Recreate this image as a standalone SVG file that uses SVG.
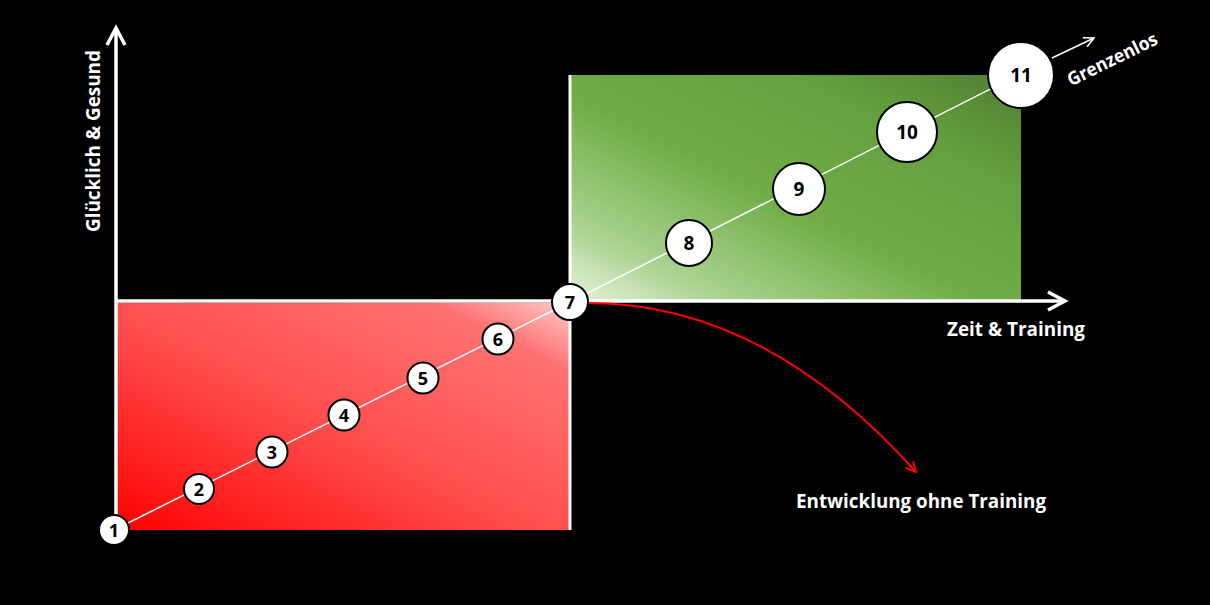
<svg xmlns="http://www.w3.org/2000/svg" width="1210" height="605" viewBox="0 0 1210 605">
<defs>
<linearGradient id="gRed" x1="0" y1="1" x2="1" y2="0">
<stop offset="0" stop-color="#ff0000"/>
<stop offset="0.45" stop-color="#ff4c4c"/>
<stop offset="0.85" stop-color="#ff7272"/>
<stop offset="1" stop-color="#ffcaca"/>
</linearGradient>
<linearGradient id="gGreen" x1="0" y1="1" x2="1" y2="0">
<stop offset="0" stop-color="#e4f2da"/>
<stop offset="0.18" stop-color="#a9d18e"/>
<stop offset="0.45" stop-color="#70ad47"/>
<stop offset="0.75" stop-color="#64a03e"/>
<stop offset="1" stop-color="#507d32"/>
</linearGradient>
<marker id="redHead" viewBox="0 0 12 12" refX="11" refY="6" markerWidth="12" markerHeight="12" markerUnits="userSpaceOnUse" orient="auto">
<path d="M1,1 L11,6 L1,11" fill="none" stroke="#ff0000" stroke-width="2"/>
</marker>
<marker id="whiteHead" viewBox="0 0 12 12" refX="11" refY="6" markerWidth="12" markerHeight="12" markerUnits="userSpaceOnUse" orient="auto">
<path d="M1,1 L11,6 L1,11" fill="none" stroke="#ffffff" stroke-width="1.6"/>
</marker>
</defs>
<style>
.lbl{font-family:"Open Sans","Noto Sans","Liberation Sans",sans-serif;font-weight:700;fill:#ffffff}
.num{font-family:"Open Sans","Noto Sans","Liberation Sans",sans-serif;font-weight:700;fill:#000000;text-anchor:middle}
.node circle{fill:#ffffff;stroke:#000000;stroke-width:2}
.axis{stroke:#ffffff;stroke-width:3.5;fill:none;stroke-linecap:butt}
.edge{stroke:#ffffff;stroke-width:3;fill:none}
</style>
<rect width="1210" height="605" fill="#000000"/>

<g id="areas">
<rect x="116" y="303" width="453" height="227" fill="url(#gRed)"/>
<rect x="571" y="75" width="450" height="225" fill="url(#gGreen)"/>
<line class="edge" x1="570" y1="75" x2="570" y2="530"/>
</g>

<g id="axes">
<line class="axis" x1="116" y1="530" x2="116" y2="29"/>
<polyline class="axis" points="107,45 116,28 125,45" stroke-linejoin="miter"/>
<line class="axis" x1="116" y1="301" x2="1064" y2="301"/>
<polyline class="axis" points="1048,292 1065,301 1048,310" stroke-linejoin="miter"/>
</g>

<g id="connectors">
<polyline points="114,530 570,302 1020,74" fill="none" stroke="#ffffff" stroke-width="1.5"/>
<line x1="1052" y1="58" x2="1094" y2="38" stroke="#ffffff" stroke-width="1.5" marker-end="url(#whiteHead)"/>
<path d="M588,303 Q765,303 916,472" fill="none" stroke="#ff0000" stroke-width="2" marker-end="url(#redHead)"/>
</g>

<g id="n1" class="node"><circle cx="114" cy="530" r="15"/><text class="num" x="114" y="536.5" font-size="18">1</text></g>
<g id="n2" class="node"><circle cx="199" cy="489" r="15"/><text class="num" x="199" y="495.5" font-size="18">2</text></g>
<g id="n3" class="node"><circle cx="272" cy="452" r="15.5"/><text class="num" x="272" y="458.5" font-size="18">3</text></g>
<g id="n4" class="node"><circle cx="344" cy="415" r="15.5"/><text class="num" x="344" y="421.5" font-size="18">4</text></g>
<g id="n5" class="node"><circle cx="423" cy="378" r="15.5"/><text class="num" x="423" y="384.5" font-size="18">5</text></g>
<g id="n6" class="node"><circle cx="498" cy="339" r="15.5"/><text class="num" x="498" y="345.5" font-size="18">6</text></g>
<g id="n7" class="node"><circle cx="570" cy="302" r="18"/><text class="num" x="570" y="308.5" font-size="18">7</text></g>
<g id="n8" class="node"><circle cx="689" cy="243" r="23"/><text class="num" x="689" y="250" font-size="19">8</text></g>
<g id="n9" class="node"><circle cx="799" cy="189" r="26"/><text class="num" x="799" y="196" font-size="19">9</text></g>
<g id="n10" class="node"><circle cx="907" cy="132" r="30"/><text class="num" x="907" y="139" font-size="19">10</text></g>
<g id="n11" class="node"><circle cx="1021" cy="75" r="33"/><text class="num" x="1021" y="82" font-size="19">11</text></g>

<g id="labels">
<text class="lbl" x="100" y="141" font-size="19.5" text-anchor="middle" textLength="182" lengthAdjust="spacingAndGlyphs" transform="rotate(-90 100 141)">Glücklich &amp; Gesund</text>
<text class="lbl" x="947" y="336" font-size="20" textLength="138" lengthAdjust="spacingAndGlyphs">Zeit &amp; Training</text>
<text class="lbl" x="796" y="508" font-size="20" textLength="250" lengthAdjust="spacingAndGlyphs">Entwicklung ohne Training</text>
<text class="lbl" x="1115" y="65" font-size="18.5" text-anchor="middle" textLength="98" lengthAdjust="spacingAndGlyphs" transform="rotate(-26 1115 65)">Grenzenlos</text>
</g>
</svg>
